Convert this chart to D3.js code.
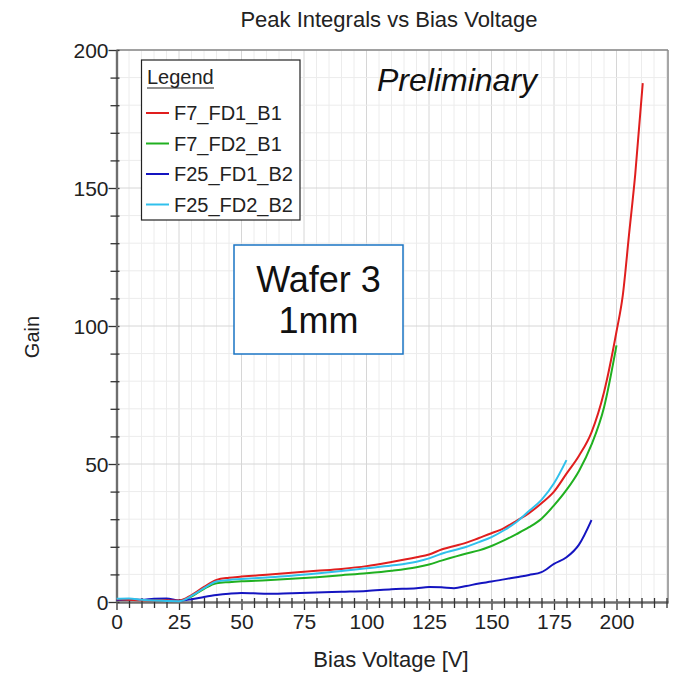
<!DOCTYPE html>
<html><head><meta charset="utf-8">
<script src="https://cdn.jsdelivr.net/npm/d3@7/dist/d3.min.js"></script>
<style>body{margin:0;background:#fff;} text{font-family:"Liberation Sans",Arial,sans-serif;}</style>
</head><body><svg id="c" width="673" height="674"></svg>
<script>
const seriesNames = ["F7_FD1_B1","F7_FD2_B1","F25_FD1_B2","F25_FD2_B2"];
const seriesColors = ["#e01e1e","#20b020","#1414c0","#30c0ec"];
const redV = [0,5,10,15,20,25,30,35,40,45,50,60,70,80,90,100,110,120,125,130,140,145,150,155,160,165,170,175,180,185,190,195,200,202.5,205,207.5,210.5];
const redG = [1.0,0.8,0.6,0.5,0.6,0.5,2.5,5.5,8.0,8.8,9.2,9.9,10.6,11.3,12.0,13.0,14.5,16.2,17.2,19.0,21.5,23.2,24.9,26.8,29.4,32.2,35.8,40.0,46.5,53.0,61.5,76,98,111,133,155,188];
const greenV = [0,5,10,15,20,25,30,35,40,45,50,60,70,80,90,100,110,120,125,130,140,145,150,155,160,165,170,175,180,185,190,195,200];
const greenG = [0.8,0.9,0.7,0.6,0.5,0.4,2.0,4.8,6.8,7.2,7.5,7.9,8.4,9.0,9.7,10.4,11.3,12.6,13.6,15.0,17.6,18.7,20.3,22.3,24.6,27.1,30.2,35.0,40.6,47.5,57.0,70.5,93];
const blueV = [0,5,10,15,20,25,30,35,40,45,50,60,70,80,90,100,110,120,125,130,135,140,145,150,155,160,165,170,175,180,185,190];
const blueG = [0.7,0.9,0.8,1.2,1.3,0.5,1.0,1.8,2.5,3.0,3.3,3.0,3.2,3.4,3.7,4.0,4.6,5.0,5.4,5.3,5.0,5.8,6.7,7.4,8.2,9.0,9.8,10.8,13.8,16.2,20.8,29.7];
const cyanV = [0,5,10,15,20,25,30,35,40,45,50,60,70,80,90,100,110,120,125,130,140,145,150,155,160,165,170,175,180];
const cyanG = [1.2,1.3,0.8,0.5,0.4,0.3,2.2,5.0,7.4,8.0,8.3,8.9,9.5,10.3,11.2,12.2,13.2,14.6,15.8,17.5,20.0,21.7,23.5,26.0,29.0,33.0,37.0,43.0,51.4];
const xTicks = [0,25,50,75,100,125,150,175,200];
const yTicks = [0,50,100,150,200];

const svg = d3.select("#c");
const L=116.5, R=668, T=50, B=602;
const x = d3.scaleLinear().domain([0,220.6]).range([L,R]);
const y = d3.scaleLinear().domain([0,200]).range([B,T]);

// grid
const g = svg.append("g");
d3.range(5,221,5).forEach(v=>{
  g.append("line").attr("x1",x(v)).attr("x2",x(v)).attr("y1",T).attr("y2",B)
   .attr("stroke", v%25===0?"#d6d6d6":"#ececec").attr("stroke-width",1);
});
d3.range(10,201,10).forEach(v=>{
  g.append("line").attr("x1",L).attr("x2",R).attr("y1",y(v)).attr("y2",y(v))
   .attr("stroke", v%50===0?"#d6d6d6":"#ececec").attr("stroke-width",1);
});
svg.append("line").attr("x1",L).attr("x2",R).attr("y1",T).attr("y2",T).attr("stroke","#888").attr("stroke-width",1.5);
svg.append("line").attr("x1",R).attr("x2",R).attr("y1",T).attr("y2",B).attr("stroke","#888").attr("stroke-width",1.5);

// axes
const xAxis = svg.append("g").attr("transform",`translate(0,${B})`)
  .call(d3.axisBottom(x).tickValues(xTicks).tickSize(8).tickSizeOuter(0));
const xMinor = svg.append("g").attr("transform",`translate(0,${B})`)
  .call(d3.axisBottom(x).tickValues(d3.range(5,221,5).filter(v=>v%25!==0)).tickSize(6).tickFormat("").tickSizeOuter(0));
const yAxis = svg.append("g").attr("transform",`translate(${L},0)`)
  .call(d3.axisLeft(y).tickValues(yTicks).tickSize(8).tickSizeOuter(0));
const yMinor = svg.append("g").attr("transform",`translate(${L},0)`)
  .call(d3.axisLeft(y).tickValues(d3.range(10,200,10).filter(v=>v%50!==0)).tickSize(6).tickFormat("").tickSizeOuter(0));
[xAxis,xMinor,yAxis,yMinor].forEach(a=>{
  a.select(".domain").attr("stroke","#6e6e6e").attr("stroke-width",2.2);
  a.selectAll(".tick line").attr("stroke","#333").attr("stroke-width",1.3);
  a.selectAll("text").attr("font-size",21).attr("fill","#222").attr("font-family","Liberation Sans, Arial, sans-serif");
});
xAxis.selectAll(".tick line").attr("y1",-3);
xMinor.selectAll(".tick line").attr("y1",-4);
yAxis.selectAll(".tick line").attr("x1",3);
yMinor.selectAll(".tick line").attr("x1",3);
xAxis.selectAll("text").attr("y",10).attr("dy","0.8em");
yAxis.selectAll("text").attr("x",-8).attr("dy","0.36em");

// lines
const sets = [[redV,redG],[greenV,greenG],[blueV,blueG],[cyanV,cyanG]];
const line = d3.line().x(d=>x(d[0])).y(d=>y(d[1])).curve(d3.curveMonotoneX);
[1,2,0,3].forEach(i=>{
  const data = sets[i][0].map((v,k)=>[v,sets[i][1][k]]);
  svg.append("path").datum(data).attr("d",line).attr("fill","none")
    .attr("stroke",seriesColors[i]).attr("stroke-width",2);
});

// titles
svg.append("text").attr("x",389).attr("y",27).attr("text-anchor","middle").attr("font-size",22).attr("fill","#222").text("Peak Integrals vs Bias Voltage");
svg.append("text").attr("x",391).attr("y",667).attr("text-anchor","middle").attr("font-size",22).attr("fill","#222").text("Bias Voltage [V]");
svg.append("text").attr("transform","translate(39,337) rotate(-90)").attr("text-anchor","middle").attr("font-size",20).attr("fill","#222").text("Gain");

// legend
const lg = svg.append("g");
lg.append("rect").attr("x",141.5).attr("y",60).attr("width",158.5).attr("height",160).attr("fill","#fff").attr("stroke","#222").attr("stroke-width",1.2);
lg.append("text").attr("x",147).attr("y",84).attr("font-size",20).attr("fill","#222").text("Legend");
lg.append("line").attr("x1",147).attr("x2",214).attr("y1",88).attr("y2",88).attr("stroke","#222").attr("stroke-width",1.2);
seriesNames.forEach((n,i)=>{
  const yy = 113 + i*30.5;
  lg.append("line").attr("x1",146).attr("x2",169).attr("y1",yy).attr("y2",yy).attr("stroke",seriesColors[i]).attr("stroke-width",2);
  lg.append("text").attr("x",174).attr("y",yy+7).attr("font-size",20).attr("fill","#222").text(n);
});

// annotations
svg.append("text").attr("x",377).attr("y",91).attr("font-size",32).attr("font-style","italic").attr("fill","#111").text("Preliminary");
svg.append("rect").attr("x",234).attr("y",245).attr("width",169).attr("height",109).attr("fill","#fff").attr("stroke","#1a74c4").attr("stroke-width",1.5);
svg.append("text").attr("x",318.5).attr("y",292).attr("text-anchor","middle").attr("font-size",36).attr("fill","#111").text("Wafer 3");
svg.append("text").attr("x",318.5).attr("y",333).attr("text-anchor","middle").attr("font-size",36).attr("fill","#111").text("1mm");
</script></body></html>
